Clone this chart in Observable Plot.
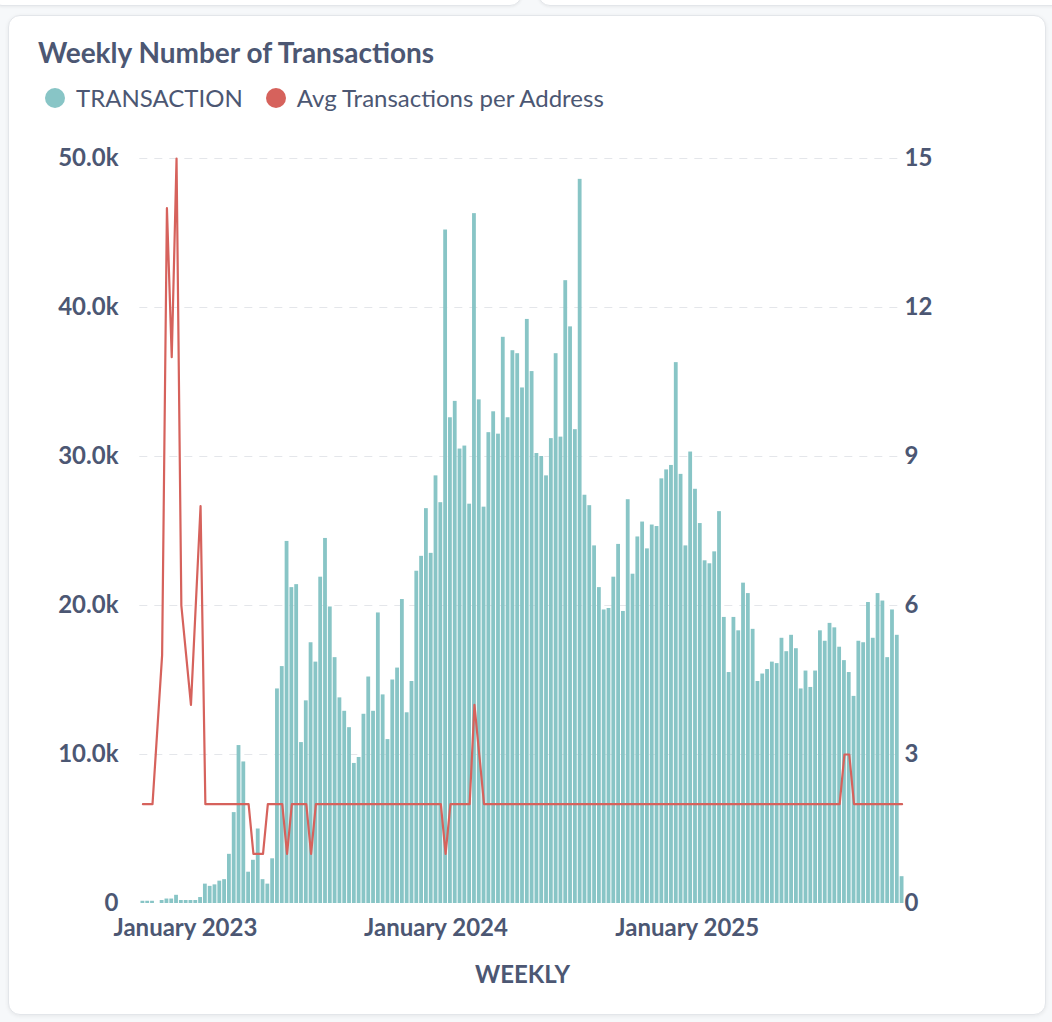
<!DOCTYPE html>
<html>
<head>
<meta charset="utf-8">
<script src="https://cdn.jsdelivr.net/npm/d3@7"></script>
<script src="https://cdn.jsdelivr.net/npm/@observablehq/plot@0.6"></script>
<style>
  html, body { margin: 0; padding: 0; }
  body { width: 1052px; height: 1022px; overflow: hidden; position: relative; background: #f6f8fa; font-family: Lato, "Noto Sans", sans-serif; }
  .prev { position: absolute; top: -30px; height: 34px; background: #fff; border: 1px solid #e3e6ea; border-radius: 12px; box-shadow: 0 1px 3px rgba(0,0,0,0.06); }
  .card { position: absolute; left: 8px; top: 15px; width: 1036px; height: 998px; background: #fff; border: 1px solid #e3e6ea; border-radius: 12px; box-shadow: 0 1px 4px rgba(0,0,0,0.07); }
  .title { position: absolute; left: 38px; top: 35px; font-size: 28px; line-height: 34px; font-weight: 700; color: #4c5773; white-space: nowrap; }
  .legend { position: absolute; left: 45px; top: 83px; height: 29px; display: flex; align-items: center; font-size: 24px; line-height: 29px; color: #4c5773; white-space: nowrap; }
  .legend .item { display: flex; align-items: center; margin-right: 23px; }
  .legend .dot { width: 20px; height: 20px; border-radius: 50%; margin-right: 11px; }
  #chart { position: absolute; left: 0; top: 130px; }
</style>
</head>
<body>
<div class="prev" style="left:-10px; width:530px;"></div>
<div class="prev" style="left:538px; width:530px;"></div>
<div class="card"></div>
<div class="title">Weekly Number of Transactions</div>
<div class="legend" id="legend"></div>
<div id="chart"></div>
<script>
// ---- data ----
const firstWeek = "2022-10-31"; // Monday of the first weekly bucket
const seriesNames = ["TRANSACTION", "Avg Transactions per Address"];
const seriesColors = ["#88c5c6", "#d6625c"];

// weekly transaction counts (null = no data that week)
const transactions = [
  150, 150, 150, null, 200, 300, 300, 550, 200, 200,
  200, 200, 400, 1300, 1150, 1250, 1500, 1600, 3300, 6100,
  10600, 9500, 2100, 2900, 5000, 1600, 1300, 3000, 14400, 15900,
  24300, 21200, 21400, 10800, 13600, 17500, 16200, 21900, 24500, 19900,
  16500, 13800, 12900, 11800, 9400, 9800, 12700, 15200, 12900, 19500,
  14000, 11000, 15000, 15800, 20400, 12800, 14900, 22300, 23300, 26500,
  23500, 28700, 26900, 45200, 32600, 33700, 30500, 30700, 26800, 46300,
  33800, 26600, 31600, 33000, 31500, 38000, 32600, 37100, 36900, 34600,
  39200, 35700, 30200, 30000, 28700, 31200, 36900, 31300, 41800, 38700,
  31800, 48600, 27400, 26700, 24000, 21200, 19700, 19800, 21900, 24100,
  19600, 27100, 22100, 24600, 25600, 23800, 25400, 25300, 28500, 29100,
  29400, 36300, 28800, 24000, 30300, 27800, 25500, 23000, 22800, 23600,
  26300, 19200, 15500, 19200, 18300, 21500, 20800, 18400, 14900, 15400,
  15700, 16200, 16100, 17800, 16900, 18000, 17100, 14400, 15600, 14500,
  15600, 18300, 17600, 18800, 18500, 17200, 16300, 15500, 13900, 17600,
  17500, 20200, 17800, 20800, 20300, 16500, 19700, 18000, 1800
];

// weekly average transactions per address (right axis)
const avgPerAddress = [
  2, 2, 2, null, 5, 14, 11, 15, 6, 5,
  4, 6, 8, 2, 2, 2, 2, 2, 2, 2,
  2, 2, 2, 1, 1, 1, 2, 2, 2, 2,
  1, 2, 2, 2, 2, 1, 2, 2, 2, 2,
  2, 2, 2, 2, 2, 2, 2, 2, 2, 2,
  2, 2, 2, 2, 2, 2, 2, 2, 2, 2,
  2, 2, 2, 1, 2, 2, 2, 2, 2, 4,
  3, 2, 2, 2, 2, 2, 2, 2, 2, 2,
  2, 2, 2, 2, 2, 2, 2, 2, 2, 2,
  2, 2, 2, 2, 2, 2, 2, 2, 2, 2,
  2, 2, 2, 2, 2, 2, 2, 2, 2, 2,
  2, 2, 2, 2, 2, 2, 2, 2, 2, 2,
  2, 2, 2, 2, 2, 2, 2, 2, 2, 2,
  2, 2, 2, 2, 2, 2, 2, 2, 2, 2,
  2, 2, 2, 2, 2, 2, 3, 3, 2, 2,
  2, 2, 2, 2, 2, 2, 2, 2, 2
];

const leftTicks = [0, 10000, 20000, 30000, 40000, 50000];
const rightTicks = [0, 3, 6, 9, 12, 15];
const xTickDates = ["2023-01-01", "2024-01-01", "2025-01-01"];
const xLabel = "WEEKLY";

// ---- build ----
const start = new Date(firstWeek + "T00:00:00Z");
const rows = transactions.map((t, i) => ({
  date: d3.utcMonday.offset(start, i),
  tx: t,
  avg: avgPerAddress[i]
})).filter(d => d.tx != null);

const leftMax = leftTicks[leftTicks.length - 1];
const rightMax = rightTicks[rightTicks.length - 1];
const k = leftMax / rightMax; // maps right axis onto the left scale

const lastDate = rows[rows.length - 1].date;
const halfWeek = d => d3.utcHour.offset(d, -84);
const halfWeekR = d => d3.utcHour.offset(d, 84);

const textColor = "#4c5773";

const plot = Plot.plot({
  width: 1052,
  height: 880,
  marginLeft: 140,
  marginRight: 148,
  marginTop: 28,
  marginBottom: 107,
  style: { fontFamily: "Lato, 'Noto Sans', sans-serif", fontSize: "24px", color: textColor, background: "transparent" },
  x: { type: "utc", domain: [halfWeek(start), halfWeekR(lastDate)] },
  y: { domain: [0, leftMax] },
  marks: [
    Plot.ruleY(leftTicks.filter(v => v > 0), { stroke: "#e4e6ea", strokeDasharray: "8,7", strokeWidth: 1.2, x1: halfWeek(d3.utcDay.offset(start, -1)), x2: halfWeekR(lastDate) }),
    Plot.rectY(rows, {
      x1: d => halfWeek(d.date),
      x2: d => halfWeekR(d.date),
      y: "tx",
      fill: seriesColors[0],
      insetLeft: 0.5,
      insetRight: 0.5
    }),
    Plot.line(rows, { x: "date", y: d => d.avg * k, stroke: seriesColors[1], strokeWidth: 2.2 }),
    Plot.axisY({
      ticks: leftTicks,
      tickFormat: d => d === 0 ? "0" : (d / 1000).toFixed(1) + "k",
      tickSize: 0, tickPadding: 22, fontWeight: "bold", fontSize: 24, label: null
    }),
    Plot.axisY({
      anchor: "right",
      ticks: leftTicks,
      tickFormat: (d, i) => String(rightTicks[i]),
      tickSize: 0, tickPadding: 0, fontWeight: "bold", fontSize: 24, label: null
    }),
    Plot.axisX({
      ticks: xTickDates.map(s => new Date(s + "T00:00:00Z")),
      tickFormat: d3.utcFormat("%B %Y"),
      tickSize: 0, tickPadding: 15, fontWeight: "bold", fontSize: 24,
      label: xLabel, labelAnchor: "center", labelArrow: "none", labelOffset: 79
    })
  ]
});
document.getElementById("chart").appendChild(plot);

// legend
const legend = document.getElementById("legend");
seriesNames.forEach((name, i) => {
  const item = document.createElement("div");
  item.className = "item";
  const dot = document.createElement("span");
  dot.className = "dot";
  dot.style.background = seriesColors[i];
  const label = document.createElement("span");
  label.textContent = name;
  item.appendChild(dot);
  item.appendChild(label);
  legend.appendChild(item);
});
</script>
</body>
</html>
